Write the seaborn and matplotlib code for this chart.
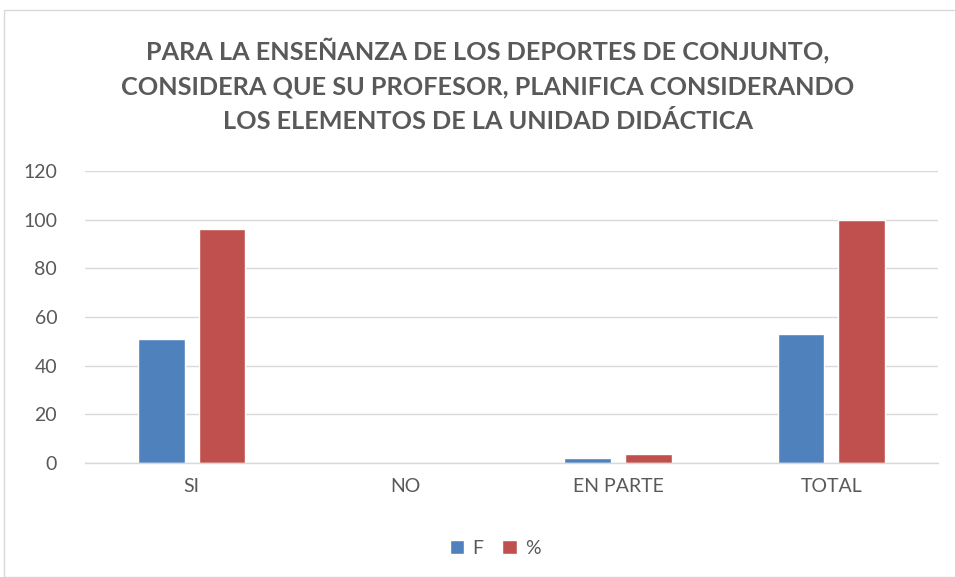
import matplotlib
matplotlib.use("Agg")
import matplotlib.pyplot as plt
import seaborn as sns
import pandas as pd
from matplotlib.patches import Rectangle, Patch

categories = ["SI", "NO", "EN PARTE", "TOTAL"]
f_values = [51, 0, 2, 53]
pct_values = [96.2, 0, 3.8, 100]
series_names = ["F", "%"]
yticks = [0, 20, 40, 60, 80, 100, 120]
title = ("PARA LA ENSEÑANZA DE LOS DEPORTES DE CONJUNTO,\n"
         "CONSIDERA QUE SU PROFESOR, PLANIFICA CONSIDERANDO\n"
         "LOS ELEMENTOS DE LA UNIDAD DIDÁCTICA")

df = pd.DataFrame({
    "cat": categories * 2,
    "serie": [series_names[0]] * 4 + [series_names[1]] * 4,
    "val": f_values + pct_values,
})

sns.set_theme(style="white")
plt.rcParams['font.family'] = ['Lato', 'DejaVu Sans']

fig = plt.figure(figsize=(9.55, 5.77), dpi=100)
ax = fig.add_axes([85/955, 1-463/577, (938-85)/955, (463-171)/577])

sns.barplot(data=df, x="cat", y="val", hue="serie", order=categories,
            hue_order=series_names, palette=["#4F81BD", "#C0504D"],
            width=0.57, gap=0.23, ax=ax, legend=False, saturation=1)

ax.set_ylim(0, 120)
ax.set_yticks(yticks)
ax.set_xlim(-0.5, 3.5)
ax.yaxis.grid(True, color="#D9D9D9", linewidth=1)
ax.set_axisbelow(True)
for s in ["top", "right", "left"]:
    ax.spines[s].set_visible(False)
ax.spines["bottom"].set_color("#D9D9D9")
ax.spines["bottom"].set_linewidth(1)
ax.tick_params(axis="both", length=0, labelsize=14, colors="#595959", pad=11)
ax.tick_params(axis="y", pad=20)
ax.set_xlabel("")
ax.set_ylabel("")

fig.text(488/955, 1-85/577, title, ha="center", va="center", fontsize=18.2,
         fontweight="bold", color="#595959", linespacing=1.62)

handles = [Patch(facecolor="#4F81BD"), Patch(facecolor="#C0504D")]
fig.legend(handles, series_names, loc="center", bbox_to_anchor=(495/955, 1-548/577),
           ncol=2, frameon=False, fontsize=14, handlelength=0.75, handleheight=0.75,
           handletextpad=0.4, columnspacing=1.0, labelcolor="#595959")

fig.patches.append(Rectangle((4/955, 0), 1, 1-10/577, transform=fig.transFigure,
                             fill=False, edgecolor="#D9D9D9", linewidth=1))

fig.savefig("out.png", dpi=100, facecolor="white")
